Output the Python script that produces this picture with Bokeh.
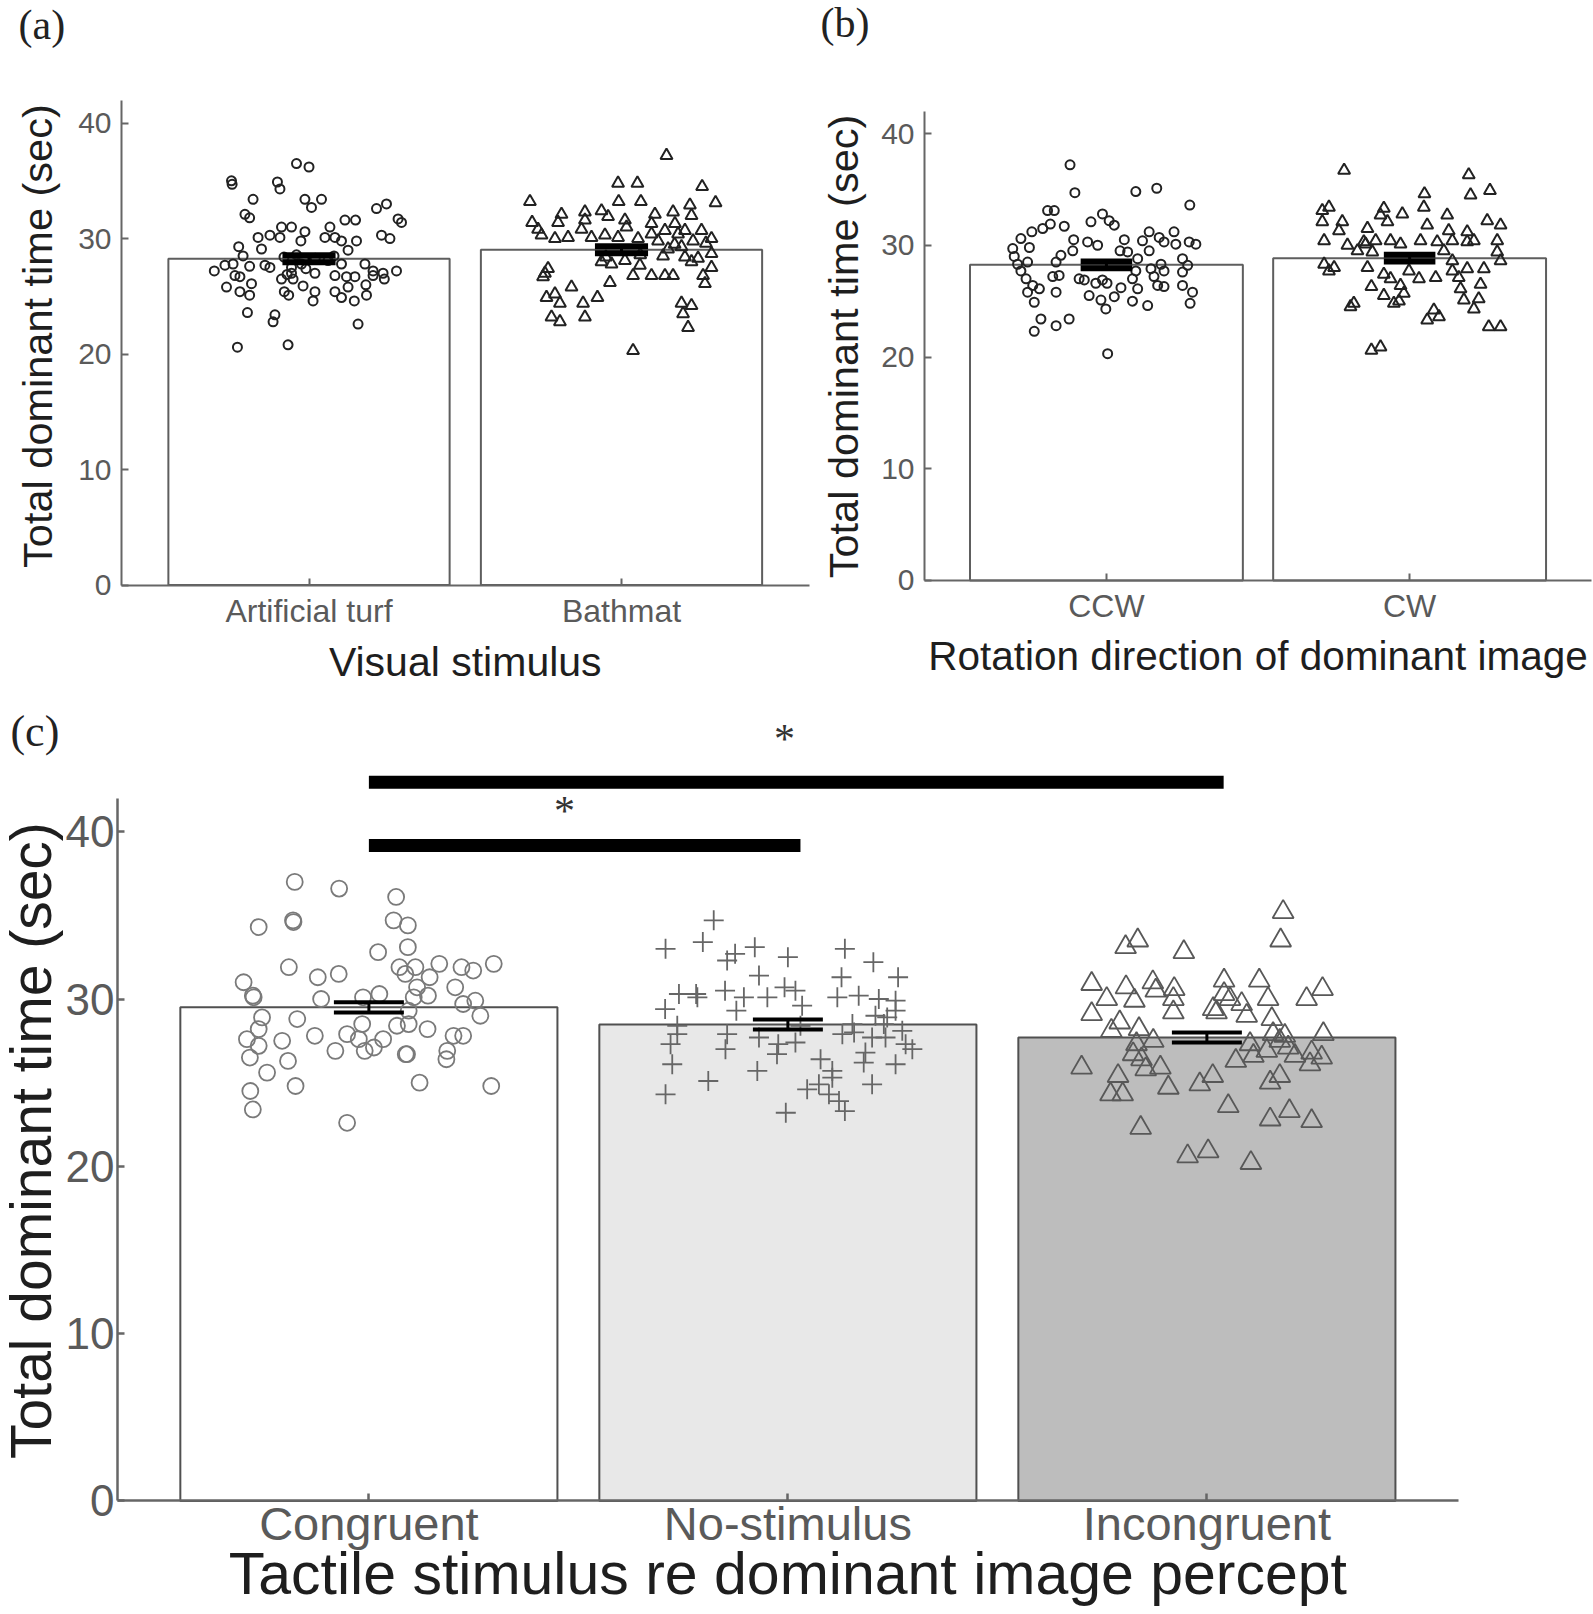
import math
from bokeh.plotting import figure
from bokeh.models import Label, FixedTicker, Range1d
from bokeh.layouts import column, row
from bokeh.embed import file_html
from bokeh.resources import INLINE

# ---------------- data ----------------
# panel (a)
a_categories = ["Artificial turf", "Bathmat"]
a_means = [28.25, 29.03]
a_sem = [0.3, 0.3]
turf_x = [0.96, 1.0, 0.752, 0.754, 0.899, 0.907, 0.821, 0.987, 1.008, 1.04, 0.795, 0.81, 1.216, 1.248, 1.285,
          1.296, 1.115, 1.149, 0.912, 0.944, 1.067, 0.987, 0.837, 0.875, 0.907, 0.974, 1.051, 1.083, 1.104,
          1.152, 1.232, 1.259, 0.775, 0.848, 1.125, 0.789, 0.697, 0.731, 0.757, 0.81, 0.859, 0.875, 0.944,
          0.976, 1.061, 1.104, 1.179, 1.205, 1.237, 1.28, 0.763, 0.779, 0.816, 0.736, 0.779, 0.81, 0.912,
          0.949, 0.981, 1.019, 0.921, 0.935, 1.019, 1.013, 1.083, 1.12, 1.147, 1.125, 1.083, 1.104, 1.145,
          1.182, 1.184, 1.205, 1.241, 0.803, 0.891, 0.885, 1.157, 0.771, 0.933, 0.944, 0.92, 0.96, 1.02,
          1.08, 0.99, 0.93]
turf_y = [36.5, 36.2, 35.0, 34.7, 34.9, 34.3, 33.4, 33.4, 32.7, 33.4, 32.1, 31.8, 32.6, 33.0, 31.7,
          31.4, 31.6, 31.6, 31.0, 31.0, 31.0, 30.6, 30.1, 30.3, 30.1, 29.8, 30.1, 30.1, 29.8,
          29.8, 30.3, 30.0, 29.3, 29.1, 29.0, 28.5, 27.2, 27.7, 27.8, 27.6, 27.7, 27.5, 27.5,
          27.8, 28.1, 27.8, 27.8, 27.2, 27.0, 27.2, 26.8, 26.7, 26.1, 25.8, 25.4, 25.1, 26.5,
          26.5, 25.9, 27.0, 25.4, 25.1, 25.4, 24.6, 26.8, 26.7, 26.7, 25.8, 25.4, 24.9, 24.6,
          26.0, 25.1, 26.8, 26.5, 23.6, 23.4, 22.8, 22.6, 20.6, 20.8, 27.0, 28.4, 28.6, 28.3,
          28.5, 27.4, 26.9]
bath_x = [2.144, 1.989, 2.051, 2.258, 1.707, 1.991, 2.062, 2.301, 2.219, 1.808, 1.883, 1.936, 2.107, 2.165,
          2.224, 1.714, 1.797, 1.883, 1.957, 2.011, 2.096, 2.171, 1.733, 1.744, 1.787, 1.829, 1.872, 1.904,
          1.947, 1.989, 2.016, 2.053, 2.096, 2.139, 2.181, 2.203, 2.256, 2.288, 2.117, 2.229, 2.149, 2.192,
          2.288, 2.203, 2.224, 2.245, 2.133, 1.936, 1.968, 2.011, 2.059, 2.288, 2.037, 2.096, 2.139, 2.165,
          2.261, 2.267, 1.765, 1.755, 1.749, 1.84, 1.963, 1.76, 1.787, 1.803, 1.877, 1.923, 1.776, 1.803,
          1.883, 2.192, 2.224, 2.197, 2.213, 2.037, 1.95, 2.06, 2.17, 2.27]
bath_y = [37.2, 34.8, 34.8, 34.5, 33.2, 33.2, 33.2, 33.1, 32.9, 32.1, 32.3, 32.4, 32.1, 32.3,
          32.0, 31.4, 31.4, 31.6, 31.9, 31.6, 31.3, 31.3, 30.8, 30.3, 30.0, 30.1, 30.8, 30.1,
          30.3, 30.1, 31.0, 30.0, 30.4, 30.7, 30.4, 30.7, 30.7, 30.0, 29.8, 29.8, 29.1, 29.3,
          28.7, 28.4, 28.0, 28.3, 28.5, 28.0, 27.8, 28.1, 27.7, 27.5, 26.8, 26.8, 26.8, 26.8,
          26.8, 26.1, 27.4, 27.0, 26.7, 25.8, 26.2, 24.9, 25.2, 24.4, 24.4, 24.9, 23.2, 22.8,
          23.2, 24.4, 24.2, 23.5, 22.3, 20.3, 28.4, 28.6, 29.5, 29.6]

# panel (b)
b_categories = ["CCW", "CW"]
b_means = [28.25, 28.84]
b_sem = [0.3, 0.3]
ccw_x = [0.88, 0.896, 1.097, 1.166, 1.275, 0.806, 0.828, 0.987, 1.009, 1.026, 0.949, 0.861, 0.79, 0.815,
         0.754, 0.718, 0.746, 0.691, 0.892, 0.889, 0.938, 0.971, 1.059, 1.045, 1.07, 1.119, 1.141, 1.141,
         1.174, 1.19, 1.223, 1.229, 1.273, 1.295, 0.85, 0.696, 0.707, 0.74, 0.834, 0.718, 0.823, 0.844,
         0.735, 0.757, 0.779, 0.74, 0.834, 0.91, 0.927, 0.965, 0.987, 1.002, 1.048, 1.086, 1.097, 1.103,
         1.147, 1.157, 1.18, 1.19, 1.169, 1.19, 1.251, 1.268, 1.251, 1.251, 1.284, 1.276, 0.943, 0.982,
         0.998, 1.026, 1.086, 1.136, 1.103, 0.762, 0.784, 0.834, 0.877, 0.762, 1.004]
ccw_y = [37.2, 34.7, 34.8, 35.1, 33.6, 33.1, 33.1, 32.8, 32.2, 31.8, 32.1, 31.7, 31.5, 31.9,
         31.2, 30.6, 29.8, 29.7, 30.5, 29.5, 30.3, 30.0, 30.5, 29.5, 29.4, 30.4, 31.2, 29.5,
         30.7, 30.3, 31.2, 30.1, 30.3, 30.1, 29.1, 29.0, 28.3, 28.5, 28.5, 27.7, 27.2, 27.3,
         27.0, 26.4, 26.1, 25.8, 25.8, 27.0, 26.9, 26.6, 26.9, 26.6, 26.2, 27.0, 27.7, 28.8,
         27.9, 27.2, 28.3, 27.7, 26.4, 26.3, 28.8, 28.2, 27.6, 26.4, 25.8, 24.8, 25.5, 25.1,
         24.3, 25.4, 25.0, 24.6, 26.1, 24.9, 23.4, 22.8, 23.4, 22.3, 20.3]
cw_x = [1.784, 2.195, 2.201, 2.265, 2.049, 2.047, 1.734, 1.712, 1.915, 1.976, 2.124, 2.256, 1.712, 1.778,
        1.904, 1.927, 1.861, 1.767, 2.058, 2.129, 2.19, 2.3, 1.718, 1.795, 1.855, 1.888, 1.937, 1.97,
        2.036, 2.091, 2.141, 2.19, 2.212, 2.289, 2.289, 1.828, 1.877, 2.113, 2.3, 1.718, 1.734, 1.861,
        1.915, 1.937, 1.998, 2.031, 2.086, 2.141, 2.162, 2.19, 2.245, 2.234, 1.874, 1.97, 1.981, 1.915,
        2.168, 2.179, 2.228, 2.212, 1.816, 1.805, 1.948, 1.965, 2.08, 2.058, 2.097, 2.261, 2.3, 1.874,
        1.904, 1.849, 2.141, 1.751]
cw_y = [36.7, 36.3, 34.5, 34.9, 34.6, 33.4, 33.4, 33.1, 33.3, 32.8, 32.7, 32.2, 32.1, 32.1,
        32.7, 32.1, 31.5, 31.3, 31.8, 31.3, 31.2, 31.8, 30.4, 30.0, 30.1, 30.4, 30.4, 30.1,
        30.4, 30.3, 30.4, 30.3, 30.4, 30.4, 29.4, 29.5, 29.4, 29.5, 28.6, 28.3, 27.7, 28.0,
        27.4, 27.0, 27.7, 27.0, 27.1, 27.7, 27.1, 27.9, 27.9, 26.5, 26.3, 26.4, 25.7, 25.5,
        26.1, 25.1, 25.2, 24.3, 24.8, 24.5, 24.8, 25.0, 24.2, 23.3, 23.6, 22.7, 22.7, 20.6,
        20.9, 30.3, 28.6, 28.0]

# panel (c)
c_categories = ["Congruent", "No-stimulus", "Incongruent"]
c_means = [29.5, 28.47, 27.7]
c_sem = [0.3, 0.3, 0.3]
c_fill = ["#ffffff", "#e8e8e8", "#bdbdbd"]
cong_x = [0.823, 0.929, 1.065, 0.737, 0.819, 0.82, 1.059, 1.093, 1.093, 1.022, 0.809, 0.878, 0.928, 1.073,
          1.087, 1.111, 1.145, 1.168, 1.221, 1.249, 1.298, 0.701, 0.723, 0.725, 0.886, 0.986, 1.025, 1.115,
          1.141, 1.206, 1.225, 1.254, 1.107, 1.095, 0.745, 0.829, 0.737, 0.709, 0.737, 0.793, 0.871, 0.948,
          0.984, 0.976, 1.034, 1.012, 0.99, 1.067, 1.095, 1.14, 1.202, 1.225, 1.266, 0.716, 0.807, 0.92,
          1.091, 1.088, 1.187, 1.185, 0.757, 0.825, 1.121, 1.292, 0.717, 0.723, 0.948]
cong_y = [37.0, 36.6, 36.1, 34.3, 34.7, 34.6, 34.7, 34.4, 33.1, 32.8, 31.9, 31.3, 31.5, 31.9,
          31.5, 31.9, 31.3, 32.1, 31.9, 31.7, 32.1, 31.0, 30.2, 30.1, 30.0, 30.1, 30.3, 30.7,
          30.2, 30.7, 29.7, 29.9, 30.1, 29.3, 28.9, 28.8, 28.2, 27.6, 27.2, 27.5, 27.8, 27.9,
          28.5, 27.6, 27.6, 27.1, 26.9, 28.4, 28.5, 28.2, 27.8, 27.8, 29.0, 26.5, 26.3, 26.9,
          26.7, 26.7, 26.9, 26.4, 25.6, 24.8, 25.0, 24.8, 24.5, 23.4, 22.6]
nost_x = [1.823, 1.708, 1.797, 1.855, 1.874, 1.921, 2.0, 2.136, 2.204, 2.263, 1.931, 2.128, 1.74, 1.781,
          1.784, 1.85, 1.895, 1.951, 1.992, 2.018, 2.034, 2.118, 2.169, 2.217, 2.257, 1.707, 1.877, 2.209,
          2.257, 2.237, 1.736, 1.736, 1.855, 1.72, 2.154, 2.13, 2.158, 2.229, 2.201, 2.281, 2.297, 2.233,
          1.851, 1.977, 2.018, 1.974, 1.931, 1.724, 2.185, 2.181, 2.257, 2.078, 2.106, 2.106, 1.927, 1.81,
          2.046, 2.074, 2.201, 1.708, 2.098, 2.122, 1.995, 2.136, 2.273, 2.03]
nost_y = [34.7, 33.0, 33.4, 32.3, 32.7, 33.1, 32.5, 33.0, 32.2, 31.3, 31.4, 31.3, 30.3, 30.3,
          30.1, 30.5, 30.1, 30.1, 30.7, 30.5, 29.6, 30.1, 30.2, 30.0, 29.9, 29.4, 29.3, 29.0,
          29.3, 28.9, 28.4, 27.9, 27.9, 27.3, 28.5, 27.9, 28.0, 28.5, 27.7, 27.3, 27.0, 27.7,
          27.0, 27.3, 27.4, 26.7, 27.7, 26.1, 26.8, 26.2, 26.1, 26.4, 25.7, 25.3, 25.7, 25.1,
          24.6, 24.9, 24.9, 24.3, 24.3, 23.9, 23.2, 23.3, 28.1, 28.4]
inc_x = [3.182, 3.176, 2.835, 2.806, 2.945, 2.725, 2.807, 2.871, 2.878, 2.922, 2.761, 2.827, 2.92, 3.041,
         3.041, 3.125, 3.146, 3.083, 3.238, 3.276, 2.725, 2.92, 3.023, 3.095, 3.155, 2.792, 2.772, 2.838,
         3.278, 2.832, 2.872, 3.103, 3.174, 3.194, 2.824, 2.844, 3.111, 3.069, 3.143, 3.21, 3.25, 3.274,
         3.246, 2.701, 2.854, 2.889, 2.788, 2.77, 2.799, 2.908, 2.983, 3.014, 3.151, 3.174, 3.051, 3.151,
         3.197, 3.25, 2.842, 2.954, 3.003, 3.105, 3.055, 3.015, 3.158, 3.186]
inc_y = [35.2, 33.5, 33.5, 33.1, 32.8, 30.9, 30.7, 31.0, 30.5, 30.6, 30.0, 29.9, 30.0, 31.1,
         30.3, 31.1, 30.0, 29.7, 30.0, 30.6, 29.1, 29.2, 29.2, 29.0, 28.8, 28.6, 28.1, 28.2,
         27.9, 27.3, 27.5, 27.3, 27.5, 27.1, 26.7, 26.4, 26.6, 26.3, 26.9, 26.6, 26.8, 26.5,
         26.1, 25.9, 25.8, 25.9, 25.4, 24.3, 24.3, 24.7, 24.9, 25.4, 25.0, 25.4, 23.6, 22.8,
         23.3, 22.7, 22.3, 20.6, 20.9, 20.2, 30.0, 29.4, 27.9, 27.8]

# significance annotations (panel c)
sig_x0 = [1.0, 1.0]
sig_x1 = [2.03, 3.04]
sig_y = [39.18, 42.96]
star_x = [1.4666, 1.992]
star_y = [41.21, 45.57]

y_ticks = [0, 10, 20, 30, 40]

SANS = "Liberation Sans"
SERIF = "Liberation Serif"
AXIS_C = "#666666"
TICKLAB_C = "#5a5a5a"
TITLE_C = "#1e1e1e"


def base_fig(width, height, xr, yr):
    p = figure(width=width, height=height, x_range=Range1d(*xr), y_range=Range1d(*yr),
               min_border_left=0, min_border_right=0, min_border_top=0, min_border_bottom=0,
               output_backend="svg", toolbar_location=None, tools="")
    p.xgrid.grid_line_color = None
    p.ygrid.grid_line_color = None
    p.outline_line_color = None
    p.background_fill_color = "white"
    p.border_fill_color = "white"
    return p


def style_axes(p, ncat, labels, tick_fs, lab_standoff_x, lab_standoff_y, lw, x_end):
    xa = p.xaxis[0]
    ya = p.yaxis[0]
    xa.fixed_location = 0
    ya.fixed_location = 0.4
    xa.ticker = FixedTicker(ticks=list(range(1, ncat + 1)))
    xa.major_label_overrides = {i + 1: lab for i, lab in enumerate(labels)}
    xa.bounds = (0.4, x_end)
    ya.ticker = FixedTicker(ticks=y_ticks)
    ya.bounds = (0, 42)
    for ax in (xa, ya):
        ax.axis_line_color = AXIS_C
        ax.axis_line_width = lw
        ax.major_tick_line_color = AXIS_C
        ax.major_tick_line_width = lw
        ax.major_tick_in = 7
        ax.major_tick_out = 0
        ax.minor_tick_line_color = None
        ax.major_label_text_font = SANS
        ax.major_label_text_color = TICKLAB_C
    xa.major_label_text_font_size = f"{tick_fs[0]}px"
    ya.major_label_text_font_size = f"{tick_fs[1]}px"
    xa.major_label_standoff = lab_standoff_x
    ya.major_label_standoff = lab_standoff_y


def add_label(p, x, y, text, size, font=SANS, angle=0.0, align="center", color=TITLE_C):
    p.add_layout(Label(x=x, y=y, text=text, angle=angle, text_font=font,
                       text_font_size=f"{size}px", text_color=color,
                       text_align=align, text_baseline="alphabetic"))


def error_bars(p, xs, means, sems, cap_w, cap_lw, stem_lw):
    p.segment(x0=xs, y0=[m - s for m, s in zip(means, sems)], x1=xs,
              y1=[m + s for m, s in zip(means, sems)], line_color="black", line_width=stem_lw)
    for sign in (-1, 1):
        ys = [m + sign * s for m, s in zip(means, sems)]
        p.segment(x0=[x - cap_w / 2 for x in xs], y0=ys, x1=[x + cap_w / 2 for x in xs], y1=ys,
                  line_color="black", line_width=cap_lw, line_cap="butt")


# ---------------- panel (a) ----------------
pa = base_fig(815, 695, (0.0128, 2.6208), (-9.558, 50.615))
style_axes(pa, 2, a_categories, (32, 30), 8, 10, 2, 2.6)
pa.vbar(x=[1, 2], top=a_means, width=0.9, bottom=0, fill_color="white",
        line_color="#5e5e5e", line_width=2)
pa.scatter(turf_x, turf_y, marker="circle", size=9, fill_color=None,
           line_color="#222222", line_width=2)
pa.scatter(bath_x, bath_y, marker="triangle", size=12, fill_color=None,
           line_color="#222222", line_width=2)
error_bars(pa, [1, 2], a_means, a_sem, 0.17, 6, 3)
add_label(pa, 0.1296, 21.56, "Total dominant time (sec)", 41.5, angle=math.pi / 2)
add_label(pa, 1.5, -6.684, "Visual stimulus", 41)
add_label(pa, 0.0704, 48.49, "(a)", 42, font=SERIF, align="left", color="#222222")

# ---------------- panel (b) ----------------
pb = base_fig(778, 695, (0.0405, 2.6065), (-10.291, 51.902))
style_axes(pb, 2, b_categories, (32, 30), 8, 10, 2, 2.6)
pb.vbar(x=[1, 2], top=b_means, width=0.9, bottom=0, fill_color="white",
        line_color="#5e5e5e", line_width=2)
pb.scatter(ccw_x, ccw_y, marker="circle", size=9, fill_color=None,
           line_color="#222222", line_width=2)
pb.scatter(cw_x, cw_y, marker="triangle", size=12, fill_color=None,
           line_color="#222222", line_width=2)
error_bars(pb, [1, 2], b_means, b_sem, 0.17, 6, 3)
add_label(pb, 0.1315, 20.94, "Total dominant time (sec)", 41.5, angle=math.pi / 2)
add_label(pb, 1.5, -6.73, "Rotation direction of dominant image", 40.5)
add_label(pb, 0.057, 49.93, "(b)", 42, font=SERIF, align="left", color="#222222")

# ---------------- panel (c) ----------------
pc = base_fig(1593, 918, (0.1208, 3.9227), (-6.730, 48.141))
style_axes(pc, 3, c_categories, (47, 44), -4, 3, 2.5, 3.6)
pc.vbar(x=[1, 2, 3], top=c_means, width=0.9, bottom=0, fill_color=c_fill,
        line_color="#505050", line_width=2)
pc.scatter(cong_x, cong_y, marker="circle", size=16, fill_color=None,
           line_color="#7a7a7a", line_width=1.8)
pc.scatter(nost_x, nost_y, marker="cross", size=20, fill_color=None,
           line_color="#666666", line_width=1.8)
pc.scatter(inc_x, inc_y, marker="triangle", size=21, fill_color=None,
           line_color="#585858", line_width=1.8)
error_bars(pc, [1, 2, 3], c_means, c_sem, 0.167, 4, 3)
pc.segment(x0=sig_x0, y0=sig_y, x1=sig_x1, y1=sig_y, line_color="black",
           line_width=13, line_cap="butt")
for sx, sy in zip(star_x, star_y):
    add_label(pc, sx, sy, "*", 42, font=SERIF, color="#333333")
add_label(pc, 0.1945, 21.54, "Total dominant time (sec)", 57, angle=math.pi / 2)
add_label(pc, 2.0, -4.38, "Tactile stimulus re dominant image percept", 59)
add_label(pc, 0.1446, 45.96, "(c)", 44, font=SERIF, align="left", color="#222222")

layout = column(row(pa, pb), pc)
open("out.html", "w").write(file_html(layout, INLINE))
